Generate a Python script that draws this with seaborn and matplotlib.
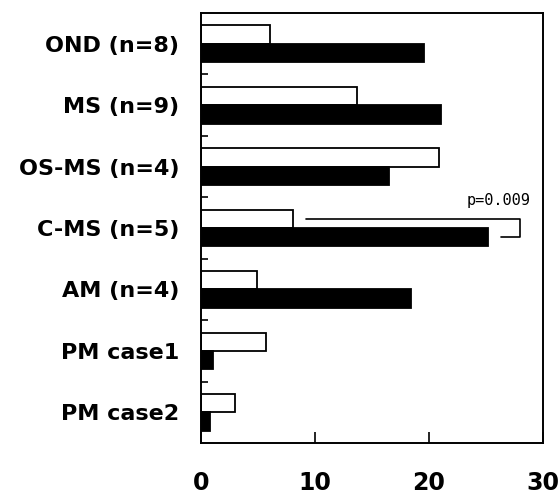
import matplotlib
matplotlib.use("Agg")
import matplotlib.pyplot as plt
import seaborn as sns
import pandas as pd

categories = ["OND (n=8)", "MS (n=9)", "OS-MS (n=4)", "C-MS (n=5)", "AM (n=4)", "PM case1", "PM case2"]
white_values = [6.0, 13.7, 20.9, 8.1, 4.9, 5.7, 3.0]
black_values = [19.6, 21.1, 16.5, 25.2, 18.4, 1.0, 0.8]
series_names = ["A", "B"]
x_ticks = [0, 10, 20, 30]
p_text = "p=0.009"

rows = []
for c, w, b in zip(categories, white_values, black_values):
    rows.append({"cat": c, "series": series_names[0], "value": w})
    rows.append({"cat": c, "series": series_names[1], "value": b})
df = pd.DataFrame(rows)

sns.set_style("white")
plt.rcParams["font.family"] = ["DejaVu Sans"]
plt.rcParams["text.color"] = "black"
plt.rcParams["xtick.color"] = "black"
plt.rcParams["ytick.color"] = "black"

fig = plt.figure(figsize=(5.59, 4.99), dpi=100)
ax = fig.add_axes([0.36, 0.112, 0.611, 0.862])

sns.barplot(data=df, y="cat", x="value", hue="series", order=categories,
            hue_order=series_names, palette=["white", "black"], edgecolor="black",
            linewidth=1.3, width=0.6, orient="h", legend=False, ax=ax, saturation=1)

ax.set_xlim(0, 30)
ax.set_ylim(len(categories) - 0.5, -0.5)
ax.set_xlabel("")
ax.set_ylabel("")

ax.set_xticks(x_ticks)
ax.set_xticklabels([str(t) for t in x_ticks], fontsize=17, fontweight="bold", color="black")
ax.tick_params(axis="x", direction="in", length=8, width=1.2, pad=20, bottom=True)
ax.set_yticks(range(len(categories)))
ax.set_yticklabels(categories, fontsize=16, fontweight="bold", color="black")
ax.tick_params(axis="y", length=0, pad=16)
ax.set_yticks([i + 0.5 for i in range(len(categories) - 1)], minor=True)
ax.tick_params(axis="y", which="minor", direction="in", length=5, width=1.2, left=True)

for s in ax.spines.values():
    s.set_visible(True)
    s.set_color("black")
    s.set_linewidth(1.4)

# significance bracket for C-MS
ci = categories.index("C-MS (n=5)")
ax.plot([9.2, 28.0, 28.0, 26.3], [ci - 0.15, ci - 0.15, ci + 0.15, ci + 0.15],
        color="black", lw=1.2, clip_on=False)
ax.text(28.9, ci - 0.45, p_text, ha="right", va="center", fontsize=11,
        family="DejaVu Sans Mono", color="black")

fig.savefig("out.png", dpi=100)
